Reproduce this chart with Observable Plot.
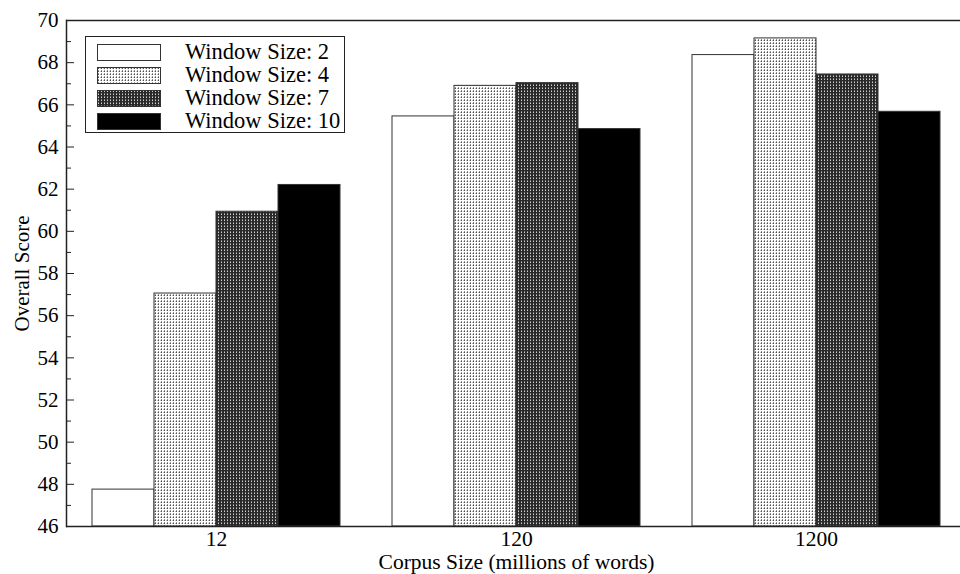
<!DOCTYPE html>
<html>
<head>
<meta charset="utf-8">
<script src="https://cdn.jsdelivr.net/npm/d3@7"></script>
<script src="https://cdn.jsdelivr.net/npm/@observablehq/plot@0.6"></script>
<style>
  html, body { margin: 0; padding: 0; background: #fff; overflow: hidden; }
  #wrap { position: relative; width: 960px; height: 574px; overflow: hidden; }
  #wrap svg text, #wrap svg tspan { font-family: "Liberation Serif", "Times New Roman", serif !important; }
  #legend { position: absolute; left: 85px; top: 36px; width: 260px; height: 97px; box-sizing: border-box;
            border: 1.5px solid #222; background: #fff; font-family: "Liberation Serif", serif; font-size: 22.5px; color: #000; }
  #legend .row { position: absolute; left: 0; height: 17px; width: 100%; }
  #legend svg { position: absolute; left: 11px; top: 0; }
  #legend span { position: absolute; left: 99px; top: -5px; line-height: 25px; white-space: nowrap; }
</style>
</head>
<body>
<div id="wrap"><div id="legend"></div></div>
<script>
// ---- data ----
const corpusSizes = ["12", "120", "1200"];
const windowSizes = ["2", "4", "7", "10"];
const legendLabels = ["Window Size: 2", "Window Size: 4", "Window Size: 7", "Window Size: 10"];
const scores12 = [47.75, 57.05, 60.93, 62.2];
const scores120 = [65.45, 66.9, 67.03, 64.85];
const scores1200 = [68.36, 69.15, 67.44, 65.67];
const yTicks = [46, 48, 50, 52, 54, 56, 58, 60, 62, 64, 66, 68, 70];
const yMinorTicks = [47, 49, 51, 53, 55, 57, 59, 61, 63, 65, 67, 69];
const yRightTicks = [48, 50, 52, 54, 56, 58, 60, 62, 64, 66, 68];
const yLabel = "Overall Score";
const xLabel = "Corpus Size (millions of words)";

// ---- styles ----
const fills = ["#ffffff", "url(#pat4)", "url(#pat7)", "#000000"];
const serif = "'Liberation Serif', 'Times New Roman', serif";

const seriesByCorpus = [scores12, scores120, scores1200];
const rows = [];
corpusSizes.forEach((c, i) => windowSizes.forEach((w, j) => rows.push({corpus: c, window: w, score: seriesByCorpus[i][j]})));

const yMin = yTicks[0], yMax = yTicks[yTicks.length - 1];

const chart = Plot.plot({
  width: 960,
  height: 574,
  marginTop: 20,
  marginBottom: 48,
  marginLeft: 65,
  marginRight: -7,
  style: {fontFamily: serif, fontSize: "21.5px", color: "#000", background: "transparent"},
  fx: {domain: corpusSizes, paddingInner: 0, paddingOuter: 0},
  x: {domain: windowSizes, paddingInner: 0, paddingOuter: 0.4, axis: null},
  y: {domain: [yMin, yMax]},
  color: {type: "ordinal", domain: windowSizes, range: fills},
  marks: [
    Plot.barY(rows, {fx: "corpus", x: "window", y1: yMin, y2: "score", fill: "window", stroke: "#333", strokeWidth: 1}),
    Plot.ruleY([yMin, yMax], {stroke: "#222", strokeWidth: 1.5}),
    Plot.frame({anchor: "left", facetAnchor: "left", stroke: "#222", strokeWidth: 1.5}),
    Plot.axisY({ticks: yTicks, tickSize: 0, tickPadding: 8, label: yLabel, labelAnchor: "center", labelOffset: 52, labelArrow: "none",
                fontFamily: serif, fontSize: 21, fontVariant: "normal"}),
    Plot.axisY({ticks: yTicks, tickSize: 8, dx: 8, text: null, label: null, stroke: "#222"}),
    Plot.axisY({ticks: yMinorTicks, tickSize: 5, dx: 5, text: null, label: null, stroke: "#222"}),
    Plot.axisY({anchor: "right", ticks: yRightTicks, tickSize: 7, dx: -7, text: null, label: null, stroke: "#222"}),
    Plot.axisFx({anchor: "bottom", tickSize: 0, tickPadding: 4, label: xLabel, labelAnchor: "center", labelOffset: 42,
                 fontFamily: serif, fontSize: 21.5, fontVariant: "normal"})
  ]
});

// pattern definitions
const svgNode = chart.tagName.toLowerCase() === "svg" ? chart : chart.querySelector("svg");
const defs = d3.select(svgNode).insert("defs", ":first-child");
const p4 = defs.append("pattern").attr("id", "pat4").attr("patternUnits", "userSpaceOnUse").attr("width", 3).attr("height", 3);
p4.append("rect").attr("width", 3).attr("height", 3).attr("fill", "#ffffff");
p4.append("rect").attr("x", 1).attr("y", 0).attr("width", 1).attr("height", 1).attr("fill", "#909090");
p4.append("rect").attr("x", 1).attr("y", 1).attr("width", 1).attr("height", 1).attr("fill", "#505050");
p4.append("rect").attr("x", 0).attr("y", 1).attr("width", 1).attr("height", 1).attr("fill", "#c0c0c0");
const p7 = defs.append("pattern").attr("id", "pat7").attr("patternUnits", "userSpaceOnUse").attr("width", 3).attr("height", 3);
p7.append("rect").attr("width", 3).attr("height", 3).attr("fill", "#2a2a2a");
p7.append("rect").attr("x", 1).attr("y", 1).attr("width", 1).attr("height", 1).attr("fill", "#d0d0d0");
p7.append("rect").attr("x", 1).attr("y", 0).attr("width", 1).attr("height", 1).attr("fill", "#808080");

const wrap = document.getElementById("wrap");
wrap.insertBefore(chart, wrap.firstChild);

// legend
const legend = d3.select("#legend");
legendLabels.forEach((lab, i) => {
  const row = legend.append("div").attr("class", "row").style("top", (7 + i * 22.9) + "px");
  const s = row.append("svg").attr("width", 64).attr("height", 17);
  s.append("rect").attr("x", 0.5).attr("y", 0.5).attr("width", 63).attr("height", 16)
    .attr("fill", fills[i]).attr("stroke", "#333").attr("stroke-width", 1);
  row.append("span").text(lab);
});
</script>
</body>
</html>
